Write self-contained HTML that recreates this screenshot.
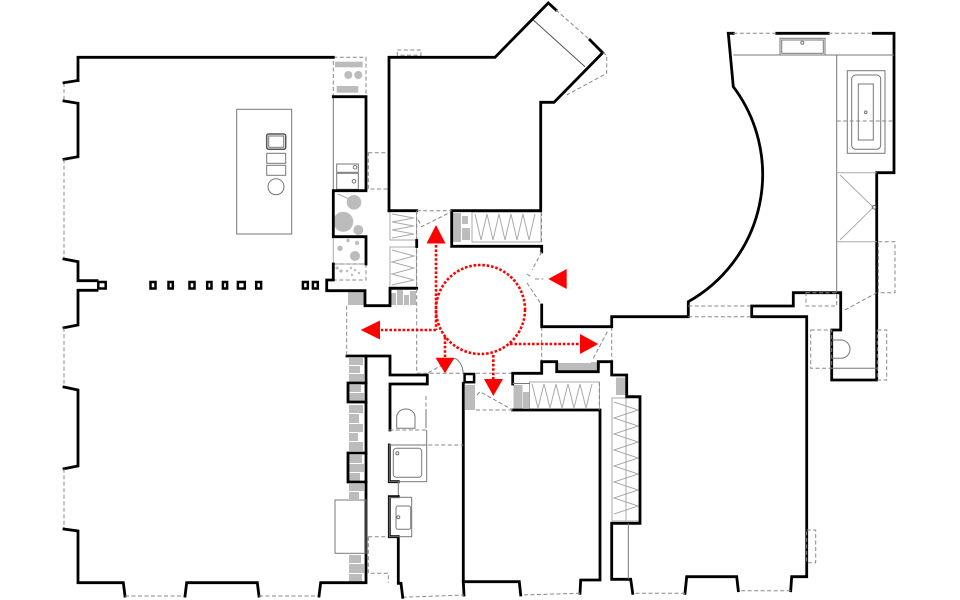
<!DOCTYPE html>
<html><head><meta charset="utf-8"><style>
html,body{margin:0;padding:0;background:#fff;}
svg{display:block;}
.w{stroke:#000;stroke-width:2.8;fill:none;stroke-linejoin:miter;stroke-linecap:square;}
.d{stroke:#888;stroke-width:1;stroke-dasharray:4 2.5;fill:none;}
.t{stroke:#777;stroke-width:1;fill:none;}
.l{stroke:#aaa;stroke-width:1;fill:none;}
.g{fill:#bcbcbc;stroke:none;}
.r{stroke:#ff0000;stroke-width:2.6;stroke-dasharray:2.6 1.8;fill:none;}
.rf{fill:#ff0000;stroke:none;}
.c{fill:#fff;stroke:#000;stroke-width:2.5;}
</style></head><body>
<svg width="960" height="600" viewBox="0 0 960 600" xmlns="http://www.w3.org/2000/svg">
<defs>
<pattern id="hv" width="3.5" height="10" patternUnits="userSpaceOnUse"><line x1="1" y1="0" x2="1" y2="10" stroke="#bdbdbd" stroke-width="1"/></pattern>
<pattern id="hh" width="10" height="3.5" patternUnits="userSpaceOnUse"><line x1="0" y1="1" x2="10" y2="1" stroke="#bdbdbd" stroke-width="1"/></pattern>
</defs>

<!-- hatched wardrobes -->
<rect x="390" y="211.5" width="26.5" height="28.5" fill="url(#hh)" class="l"/>
<polyline class="l" points="392,214 414,218 392,222 414,226 392,230 414,234 392,238"/>
<rect x="390" y="247" width="26.5" height="40" fill="url(#hh)" class="l"/>
<polyline class="l" points="392,250 414,256 392,262 414,268 392,274 414,280 392,285"/>
<rect x="472" y="212" width="69" height="30" fill="url(#hv)" class="l"/>
<polyline class="l" points="475,214 481,240 487,214 493,240 499,214 505,240 511,214 517,240 523,214 529,240 535,214"/>
<rect x="529.5" y="382" width="70" height="28" fill="url(#hv)" class="l"/>
<polyline class="l" points="532,384 538,408 544,384 550,408 556,384 562,408 568,384 574,408 580,384 586,408 592,384"/>
<rect x="612" y="398" width="28" height="123" fill="url(#hh)" class="l"/>
<polyline class="l" points="614,402 638,410 614,418 638,426 614,434 638,442 614,450 638,458 614,466 638,474 614,482 638,490 614,498 638,506 614,514"/>
<line x1="626" y1="398" x2="626" y2="521" class="l"/>

<!-- gray cabinets -->
<rect class="g" x="348" y="292" width="16" height="13"/>
<rect class="g" x="349" y="358" width="14" height="7"/><rect class="g" x="349" y="366" width="11" height="7"/><rect class="g" x="349" y="374" width="15" height="8"/>
<rect class="g" x="349" y="385" width="12" height="7"/><rect class="g" x="349" y="393" width="15" height="8"/>
<rect class="g" x="349" y="405" width="14" height="8"/><rect class="g" x="349" y="414" width="10" height="9"/><rect class="g" x="349" y="424" width="14" height="8"/><rect class="g" x="349" y="433" width="9" height="8"/><rect class="g" x="349" y="442" width="14" height="9"/>
<rect class="g" x="349" y="455" width="13" height="8"/><rect class="g" x="349" y="464" width="15" height="8"/><rect class="g" x="349" y="473" width="11" height="8"/>
<rect class="g" x="349" y="484" width="15" height="7"/><rect class="g" x="349" y="492" width="10" height="7"/>
<rect class="g" x="349" y="555" width="12" height="8"/><rect class="g" x="349" y="564" width="15" height="9"/><rect class="g" x="349" y="574" width="13" height="8"/>
<rect class="g" x="391" y="293" width="5" height="12"/><rect class="g" x="397" y="290" width="6" height="15"/><rect class="g" x="404" y="295" width="5" height="10"/><rect class="g" x="410" y="291" width="6" height="14"/>
<rect class="g" x="453" y="213" width="8" height="29"/><rect class="g" x="462" y="216" width="6" height="8"/><rect class="g" x="462" y="228" width="8" height="12"/>
<rect class="g" x="465" y="385" width="10" height="25"/>
<rect class="g" x="513.5" y="385" width="9" height="25"/><rect class="g" x="523" y="392" width="6" height="16"/>
<rect class="g" x="558" y="363" width="40" height="7.5"/>
<rect class="g" x="616" y="377.5" width="10" height="17.5"/>
<rect class="g" x="591" y="362" width="9" height="6"/>

<!-- kitchen items -->
<rect class="d" x="333.3" y="57.3" width="32.7" height="39.4"/>
<rect class="g" x="335" y="61.7" width="27.7" height="5.6"/>
<circle class="g" cx="348.3" cy="75" r="4"/><circle class="g" cx="358.3" cy="75" r="4"/>
<rect class="g" x="336.7" y="86" width="21.6" height="6.7"/>
<line class="t" x1="333.3" y1="96.7" x2="333.3" y2="190.7"/>
<rect class="t" x="336.7" y="164" width="21.6" height="8.3"/>
<rect class="t" x="336.7" y="173.3" width="21.6" height="16"/>
<circle class="t" cx="355" cy="167.3" r="1.8"/><circle class="t" cx="354" cy="181.3" r="1.8"/>
<circle class="g" cx="354" cy="202.3" r="7.3"/><circle class="g" cx="343.3" cy="221.7" r="10"/><circle class="g" cx="358.3" cy="230" r="5"/>
<line x1="338" y1="194" x2="349" y2="199" stroke="#aaa" stroke-width="1"/>
<rect class="l" x="333.3" y="236.7" width="32.7" height="27.3"/>
<circle class="g" cx="340" cy="248.3" r="2.7"/><circle class="g" cx="348" cy="240.5" r="1.7"/><circle class="g" cx="357" cy="243" r="2"/><circle class="g" cx="355" cy="256" r="5"/>
<rect class="d" x="333.3" y="264" width="32.7" height="16"/>
<circle class="g" cx="337" cy="268" r="1.6"/><circle class="g" cx="341" cy="271" r="1.6"/><circle class="g" cx="347" cy="271" r="1.3"/><circle class="g" cx="351" cy="268" r="1.2"/><circle class="g" cx="355" cy="270" r="1.2"/><circle class="g" cx="359" cy="273" r="1.2"/><circle class="g" cx="352" cy="275" r="1.2"/>

<!-- island -->
<rect class="t" x="236.7" y="109.3" width="55" height="124.7"/>
<rect x="266.7" y="134" width="19" height="15.3" rx="2" fill="none" stroke="#555" stroke-width="1.5"/>
<rect class="t" x="268.7" y="136" width="15" height="11.3"/>
<rect class="t" x="266.7" y="153.3" width="19" height="10"/>
<rect class="t" x="266.7" y="165.3" width="19" height="10"/>
<circle class="t" cx="276" cy="186.7" r="8"/>

<!-- columns -->
<rect class="c" x="150.5" y="282" width="5" height="6.5"/>
<rect class="c" x="168.5" y="282" width="4.3" height="6.5"/>
<rect class="c" x="189.5" y="282" width="5" height="6.5"/>
<rect class="c" x="207.2" y="282" width="4.3" height="6.5"/>
<rect class="c" x="222.9" y="282" width="4.2" height="6.5"/>
<rect class="c" x="237.9" y="282" width="6.9" height="6.5"/>
<rect class="c" x="256.2" y="282" width="4.9" height="6.5"/>
<rect class="c" x="302.9" y="282" width="4.9" height="6.5"/>
<rect class="c" x="312.9" y="282" width="4.9" height="6.5"/>
<rect class="c" x="98.3" y="282" width="7.4" height="6.5"/>

<!-- left room walls -->
<path class="w" d="M78,80.5 L78,57.3 L333.3,57.3"/>
<path class="d" d="M64,82.7 L64,101"/>
<path class="w" d="M64,82.7 L78,80.5"/>
<path class="w" d="M64,101 L78,103.3 L78,156.7 L64,159.3"/>
<path class="d" d="M64,159.3 L64,259"/>
<path class="w" d="M64,259 L78,261.7 L78,280.7 L97,280.7"/>
<path class="w" d="M97,290.3 L78,290.3 L78,325 L64,327.7"/>
<path class="d" d="M64,327.7 L64,387"/>
<path class="w" d="M64,387 L78,390 L78,466 L64,468.7"/>
<path class="d" d="M64,468.7 L64,529"/>
<path class="w" d="M64,529 L78,531 L78,582.7 L123.3,582.7 L125,596"/>
<path class="d" d="M125,596 L185,596"/>
<path class="w" d="M185,596 L186.7,582.7 L257.3,582.7 L259,596"/>
<path class="d" d="M259,596 L319,596"/>
<path class="w" d="M319,596 L320.7,582.7 L366,582.7 L366,356 L390,356 L390,375 L427.3,375 L427.3,384 L390,384 L390,430"/>
<path class="w" d="M347,356 L366,356"/>
<path class="w" d="M348,383 L366,383 M348,402 L366,402 M348,383 L348,402"/>
<path class="w" d="M348,453 L366,453 M348,482 L366,482 M348,453 L348,482"/>
<path class="w" d="M333.3,96.7 L366,96.7 L366,190.7 L333.3,190.7 L333.3,236.7 L366,236.7 L366,264"/>
<path class="w" d="M333.3,264 L333.3,280 L326.7,280 L326.7,290.7 L365,290.7 L365,305.7 L390,305.7 L390,288.3 L416.7,288.3"/>
<rect class="t" x="335" y="500" width="31" height="53.3"/>
<path class="d" d="M346.7,305.7 L346.7,356"/>
<rect class="d" x="368.3" y="152.7" width="20.7" height="36.3"/>
<path class="d" d="M368.3,536.7 L398.3,536.7 M368.3,536.7 L368.3,573.3 L388.3,573.3 L388.3,582.7"/>

<!-- top middle room -->
<path class="w" d="M389,210.7 L389,57.3 L495,57.3 L548.3,3 L556,10"/>
<path class="d" d="M556,10 L590,40"/>
<path class="w" d="M590,40 L602.7,52.7 L554,102.3 L540.7,102.3 L540.7,210.7 L451.7,210.7 L451.7,246.3 L541.7,246.3 L541.7,252"/>
<path class="w" d="M389,210.7 L416.7,210.7"/>
<path d="M533.3,20 L585,66.7" stroke="#555" stroke-width="1" fill="none"/>
<path class="d" d="M602.7,52.7 L606.7,55 L606.7,73.3 L566.7,95"/>
<rect class="d" x="397.3" y="50" width="23.7" height="5.3"/>
<path class="d" d="M416.7,210.7 L451.7,210.7"/>
<path class="d" d="M418.3,220 L421.7,226.7 L448.3,213.3"/>
<path class="d" d="M541.5,212 L541.5,242"/>

<!-- hall -->
<path class="d" d="M416.7,210.7 L416.7,373.3"/>
<path class="w" d="M416.7,240.5 L416.7,246.5"/>
<path class="d" d="M416.7,373.3 L463.3,373.3 M476,373.3 L512.7,373.3"/>
<path class="d" d="M428.3,372.7 L455,358.3"/>
<path class="t" d="M455,358.3 Q462,362 463.3,372.7"/>
<path class="d" d="M541.7,252 L532,270 M527,274 L532,277.5 M527,283 L541.7,305"/>
<path class="d" d="M535,279 L543.3,279"/>
<path class="d" d="M541.7,326.7 L541.7,361.7"/>
<path class="d" d="M611.7,326.7 L611.7,361.7"/>
<path class="d" d="M593.3,358.3 L608.3,330"/>

<!-- right structure -->
<path class="w" d="M541.7,305 L541.7,326.7 L611.7,326.7 L611.7,316.7 L688.3,316.7 L688.3,301.7 A146,146 0 0 0 733.3,86.7 L728.3,33.3 L733.3,33.3"/>
<path class="w" d="M776.7,33.3 L828.3,33.3"/>
<path class="w" d="M873.3,33.3 L894,33.3 L894,172.7 L876.7,172.7 L876.7,380 L831.7,380 L831.7,330 L840.7,330 L840.7,292.7 L793.3,292.7 L793.3,306 L751.7,306 L751.7,316.7 L806.7,316.7 L806.7,576.7 L791.7,576.7 L790.7,590.7"/>
<path class="d" d="M733.3,33.3 L776.7,33.3 M828.3,33.3 L873.3,33.3"/>
<path class="d" d="M688.3,306 L751.7,306 M688.3,316.7 L751.7,316.7"/>
<path class="d" d="M790.7,590.7 L738.3,590.7"/>
<path class="w" d="M738.3,590.7 L736.7,576.7 L686.7,576.7 L685,593.3"/>
<path class="d" d="M685,593.3 L632.7,593.3"/>
<path class="w" d="M632.7,593.3 L630.7,579.3 L611.7,579.3 L611.7,523.3 L640,523.3 L640,396.7 L626.7,396.7 L626.7,375 L611.7,375 L611.7,361.7 L598.3,361.7 L598.3,371.7 L556.7,371.7 L556.7,361.7 L541.7,361.7 L541.7,373.3 L512.7,373.3 L512.7,384"/>
<path class="t" d="M512.7,383.5 L530,383.5"/>
<path class="w" d="M512.7,410 L600,410 L600,580 L580.7,580 L580,593.3"/>
<path class="d" d="M580,593.3 L520.7,595"/>
<path class="w" d="M520.7,595 L519.3,581.7 L463.3,581.7"/>
<path class="w" d="M464,595 L463.3,581.7 L463.3,383.3"/>
<rect class="c" x="464.6" y="374" width="9.5" height="8.2"/>
<path class="d" d="M402.7,597.3 L464,595"/>
<path class="d" d="M476,410 L512.7,410"/>
<path class="d" d="M477,395 L480,391.7 L512.7,410"/>
<path class="d" d="M599.3,382 L599.3,410"/>
<line class="t" x1="628.3" y1="523.3" x2="628.3" y2="579.3"/>
<rect class="d" x="806.7" y="530" width="9" height="32.7"/>

<!-- bath column -->
<path class="w" d="M389.3,445 L389.3,481.7 L398.3,481.7"/>
<path class="t" d="M398.3,481.7 L398.3,496.7"/>
<path class="w" d="M398.3,496.7 L389.3,496.7 L389.3,536.7 L398.3,536.7 L398.3,583.3 L401,583.3 L402.7,597.3"/>
<path class="d" d="M389.3,430 L426,430 M389.3,445 L463.3,445 M426,396 L426,410"/>
<path class="t" d="M426.7,430 L426.7,445 M426,410 L426,428"/>
<path class="t" d="M396.7,428.3 L396.7,417 A9.15,8 0 0 1 415,417 L415,428.3 Z"/>
<rect class="t" x="389.3" y="445" width="37.4" height="36.7"/>
<rect class="t" x="393.3" y="448.3" width="28.4" height="29" rx="3"/>
<circle class="t" cx="397.3" cy="453.3" r="1.5"/>
<rect class="t" x="389.3" y="497.3" width="22.4" height="39.4"/>
<rect class="t" x="396" y="506" width="14.7" height="23.3" rx="2"/>
<circle class="t" cx="398.3" cy="517.3" r="1.5"/>

<!-- right bathroom -->
<path class="t" d="M733.3,55 L894,55 M836.7,55 L836.7,292.7"/>
<rect class="t" x="780" y="38.3" width="45" height="16.7"/>
<rect class="t" x="781.7" y="40" width="41.6" height="13.3"/>
<circle class="t" cx="802.3" cy="42.7" r="1.5"/>
<rect class="t" x="847.3" y="70.7" width="37.7" height="82.6"/>
<rect class="t" x="851.7" y="75" width="29" height="74.3" rx="4"/>
<rect class="t" x="858.3" y="84" width="15" height="56"/>
<circle class="t" cx="865.7" cy="112.3" r="1.3"/>
<path class="d" d="M836.7,121 L894,121" stroke="#444"/>
<path class="l" d="M836.7,172.7 L876.7,172.7 M836.7,241.7 L876.7,241.7 M840,175 L873.3,207.3 L840,240"/>
<circle class="t" cx="874" cy="207.3" r="1.8"/>
<rect class="d" x="878.3" y="241.7" width="16.7" height="51"/>
<path class="d" d="M845,310 L876.7,292.7"/>
<rect class="d" x="806" y="292.7" width="30.7" height="13.3"/>
<rect class="d" x="810.7" y="330" width="21" height="38.3"/>
<rect class="d" x="877.3" y="330" width="9.4" height="50"/>
<path class="t" d="M831.7,340 L841,340 A9,9.15 0 0 1 841,358.3 L831.7,358.3"/>
<path class="t" d="M831.7,368.3 L876.7,368.3"/>

<!-- red circulation -->
<circle class="r" cx="480.5" cy="309.5" r="44.5"/>
<path class="r" d="M436,245 L436,330 M436,330 L381,330 M510,344 L579,344 M445,337 L445,357 M493.3,355 L493.3,379"/>
<polygon class="rf" points="436,225 426.5,243.5 445.5,243.5"/>
<polygon class="rf" points="360.7,330 380,320.5 380,339.5"/>
<polygon class="rf" points="598.3,344 580,334 580,354"/>
<polygon class="rf" points="445,373.3 435.5,357.7 454.5,357.7"/>
<polygon class="rf" points="493.3,396 484,379 503,379"/>
<polygon class="rf" points="548.3,279 566.7,269 566.7,289"/>
</svg>
</body></html>
